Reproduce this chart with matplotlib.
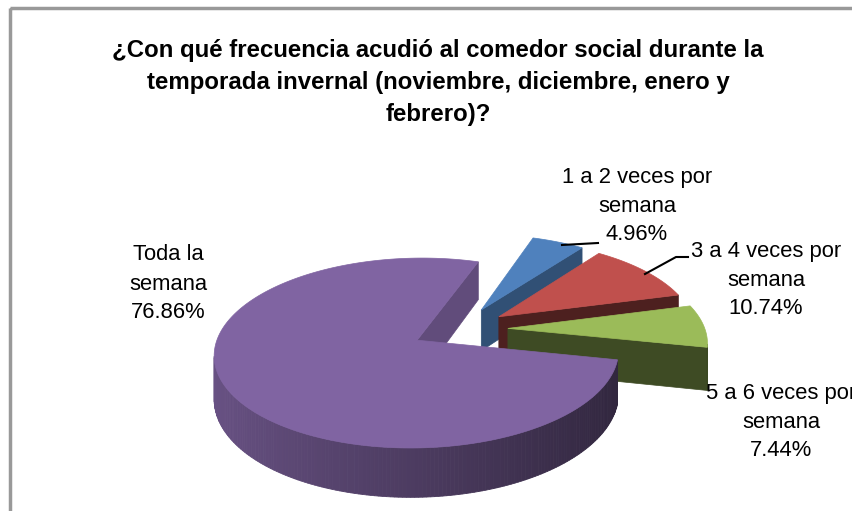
#!/usr/bin/env python3
# -*- coding: utf-8 -*-

import matplotlib
matplotlib.use("Agg")
import matplotlib.pyplot as plt
import numpy as np
from matplotlib.patches import Polygon, Rectangle

title = ("¿Con qué frecuencia acudió al comedor social durante la\n"
         "temporada invernal (noviembre, diciembre, enero y\n"
         "febrero)?")
labels = ["1 a 2 veces por\nsemana", "3 a 4 veces por\nsemana",
          "5 a 6 veces por\nsemana", "Toda la\nsemana"]
values = [4.96, 10.74, 7.44, 76.86]
colors = ["#4F81BD", "#C0504D", "#9BBB59", "#8064A2"]
face_shade = [0.62, 0.40, 0.40, 0.76]

# pseudo 3d pie geometry (pixels)
CX, CY = 459.7, 329.0
R = 197.0
K = 0.458
P = 0.133
DEPTH = 42.0
EXPLODE = 0.245
START = 71.5

plt.rcParams["font.family"] = ["Liberation Sans", "DejaVu Sans"]


def proj(x, y, h=0.0):
    s = 1.0 / (1.0 + P * y)
    return CX + R * x * s, CY - (K * R * y + h) * s


def shade(c, f):
    rgb = np.array(matplotlib.colors.to_rgb(c)) * f
    return tuple(np.clip(rgb, 0, 1))


def visible(nx, ny, px, py):
    return nx * (0.0 - px) + ny * (-1.0 / P - py) > 0


def draw_slice(ax, lo, hi, color, fshade):
    mid = np.radians((lo + hi) / 2)
    ox, oy = EXPLODE * np.cos(mid), EXPLODE * np.sin(mid)

    # flat cut faces
    for ang, nang in [(lo, lo - 90), (hi, hi + 90)]:
        a = np.radians(ang)
        n = np.radians(nang)
        rx, ry = ox + np.cos(a), oy + np.sin(a)
        if visible(np.cos(n), np.sin(n), (ox + rx) / 2, (oy + ry) / 2):
            pts = [proj(ox, oy), proj(rx, ry), proj(rx, ry, -DEPTH), proj(ox, oy, -DEPTH)]
            c = shade(color, fshade)
            ax.add_patch(Polygon(pts, closed=True, fc=c, ec=c, lw=0.5))

    # outer wall
    steps = max(int(abs(hi - lo)), 2)
    th = np.radians(np.linspace(lo, hi, steps + 1))
    for t1, t2 in zip(th[:-1], th[1:]):
        tm = (t1 + t2) / 2
        if not visible(np.cos(tm), np.sin(tm), ox + np.cos(tm), oy + np.sin(tm)):
            continue
        pts = [proj(ox + np.cos(t1), oy + np.sin(t1)),
               proj(ox + np.cos(t2), oy + np.sin(t2)),
               proj(ox + np.cos(t2), oy + np.sin(t2), -DEPTH),
               proj(ox + np.cos(t1), oy + np.sin(t1), -DEPTH)]
        c = shade(color, 0.6 - 0.22 * np.cos(tm))
        ax.add_patch(Polygon(pts, closed=True, fc=c, ec=c, lw=0.6))

    # top
    arc = np.radians(np.linspace(lo, hi, steps * 2 + 2))
    pts = [proj(ox, oy)] + [proj(ox + np.cos(t), oy + np.sin(t)) for t in arc]
    ax.add_patch(Polygon(pts, closed=True, fc=color, ec=color, lw=0.5))


def main():
    fig = plt.figure(figsize=(8.53, 5.11), dpi=100)
    ax = fig.add_axes([0, 0, 1, 1])
    ax.set_xlim(0, 853)
    ax.set_ylim(511, 0)
    ax.axis("off")

    ax.add_patch(Rectangle((10, 8), 900, 600, fill=False, ec="#999999", lw=2.5))

    cum = np.concatenate([[0], np.cumsum(values)]) / 100.0 * 360.0
    for i in range(len(values)):
        hi = START - cum[i]
        lo = START - cum[i + 1]
        draw_slice(ax, lo, hi, colors[i], face_shade[i])

    ax.text(438, 83, title, ha="center", va="center", fontsize=17.3,
            fontweight="bold", linespacing=1.5)

    label_pos = [(637, 206), (766, 280), (781, 422), (168, 284)]
    for (x, y), lab, v in zip(label_pos, labels, values):
        ax.text(x, y, "{}\n{:.2f}%".format(lab, v), ha="center", va="center",
                fontsize=15.8, linespacing=1.5)

    ax.plot([562, 598], [245, 243], color="black", lw=1.5)
    ax.plot([645, 676, 688], [274, 257, 257], color="black", lw=1.5)

    fig.savefig("out.png", dpi=100)
    plt.close(fig)


if __name__ == "__main__":
    main()
